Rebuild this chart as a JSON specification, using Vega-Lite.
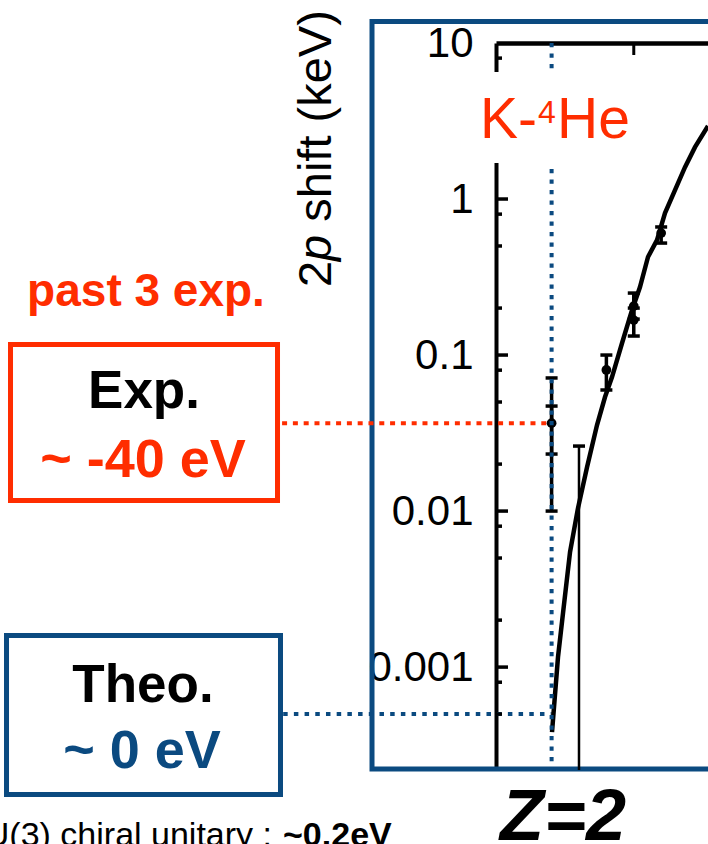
{
  "$schema": "https://vega.github.io/schema/vega-lite/v6.json",
  "width": 212,
  "height": 727,
  "autosize": {"type": "none"},
  "padding": {"left": 496, "top": 43, "right": 0, "bottom": 74},
  "background": "white",
  "config": {"view": {"stroke": null}, "font": "Liberation Sans", "axis": {"grid": false}},
  "layer": [
    {
      "data": {"values": [{"z": -4.557, "z2": 8.5, "v": 13.73, "v2": 0.000222}]},
      "mark": {"type": "rect", "filled": false, "stroke": "#0b4a80", "strokeWidth": 5},
      "encoding": {
        "x": {"field": "z", "type": "quantitative", "scale": {"domain": [-0.03, 7.71], "nice": false, "zero": false},
              "axis": {"orient": "top", "ticks": false, "labels": false, "domain": true, "domainColor": "black", "domainWidth": 4.5, "grid": false, "title": null}},
        "x2": {"field": "z2"},
        "y": {"field": "v", "type": "quantitative", "scale": {"type": "log", "domain": [0.000219, 10], "nice": false},
              "axis": {"orient": "left", "values": [0.001, 0.01, 0.1, 1, 10], "format": "~g", "ticks": false, "tickSize": 0, "domain": true, "domainColor": "black", "domainWidth": 4, "labelFont": "Liberation Sans", "labelFontSize": 42, "labelColor": "black", "labelPadding": 23, "labelFlush": false, "labelOverlap": false, "labelBound": false, "grid": false, "title": null}},
        "y2": {"field": "v2"}
      }
    },
    {
      "data": {"values": [{"box": "Exp.", "z": -17.755, "z2": -8.007, "v": 0.1168, "v2": 0.01168}]},
      "mark": {"type": "rect", "filled": false, "stroke": "#ff2d00", "strokeWidth": 5},
      "encoding": {
        "x": {"field": "z", "type": "quantitative"}, "x2": {"field": "z2"},
        "y": {"field": "v", "type": "quantitative"}, "y2": {"field": "v2"}
      }
    },
    {
      "data": {"values": [{"box": "Theo.", "z": -17.901, "z2": -7.898, "v": 0.001592, "v2": 0.0001524}]},
      "mark": {"type": "rect", "filled": false, "stroke": "#0b4a80", "strokeWidth": 5},
      "encoding": {
        "x": {"field": "z", "type": "quantitative"}, "x2": {"field": "z2"},
        "y": {"field": "v", "type": "quantitative"}, "y2": {"field": "v2"}
      }
    },
    {
      "data": {"values": [{"z": -7.84, "z2": 1.85, "v": 0.0366}]},
      "mark": {"type": "rule", "stroke": "#ff2d00", "strokeWidth": 4, "strokeDash": [5, 5.8]},
      "encoding": {
        "x": {"field": "z", "type": "quantitative"}, "x2": {"field": "z2"},
        "y": {"field": "v", "type": "quantitative"}
      }
    },
    {
      "data": {"values": [{"z": -7.80, "z2": 2.0, "v": 0.0005}]},
      "mark": {"type": "rule", "stroke": "#0b4a80", "strokeWidth": 4, "strokeDash": [4.5, 6.2]},
      "encoding": {
        "x": {"field": "z", "type": "quantitative"}, "x2": {"field": "z2"},
        "y": {"field": "v", "type": "quantitative"}
      }
    },
    {
      "data": {"values": [{"z": 3, "v": 0.000219, "v2": 0.0261}]},
      "layer": [
        {"mark": {"type": "rule", "color": "black", "strokeWidth": 2.5},
         "encoding": {"x": {"field": "z", "type": "quantitative"}, "y": {"field": "v", "type": "quantitative"}, "y2": {"field": "v2"}}},
        {"mark": {"type": "tick", "orient": "horizontal", "color": "black", "opacity": 1, "size": 12, "thickness": 3.5},
         "encoding": {"x": {"field": "z", "type": "quantitative"}, "y": {"field": "v2", "type": "quantitative"}}}
      ]
    },
    {
      "data": {"values": [
        {"z": 2.015, "v": 0.000383}, {"z": 2.234, "v": 0.00116}, {"z": 2.417, "v": 0.00222},
        {"z": 2.673, "v": 0.00546}, {"z": 2.964, "v": 0.01045}, {"z": 3.293, "v": 0.0191},
        {"z": 3.658, "v": 0.0356}, {"z": 3.95, "v": 0.0538}, {"z": 4.205, "v": 0.0723},
        {"z": 4.57, "v": 0.119}, {"z": 4.935, "v": 0.194}, {"z": 5.227, "v": 0.273},
        {"z": 5.519, "v": 0.425}, {"z": 5.848, "v": 0.546}, {"z": 6.14, "v": 0.813},
        {"z": 6.505, "v": 1.14}, {"z": 6.87, "v": 1.6}, {"z": 7.235, "v": 2.15}, {"z": 7.71, "v": 2.94}
      ]},
      "mark": {"type": "line", "color": "black", "strokeWidth": 4.5, "clip": true},
      "encoding": {
        "x": {"field": "z", "type": "quantitative"},
        "y": {"field": "v", "type": "quantitative"}
      }
    },
    {
      "data": {"values": [
        {"z": 2, "v": 0.01, "v2": 0.0713}, {"z": 2, "v": 0.0232, "v2": 0.0471},
        {"z": 4, "v": 0.0597, "v2": 0.1}, {"z": 5, "v": 0.17, "v2": 0.2496},
        {"z": 5, "v": 0.1324, "v2": 0.2}, {"z": 6, "v": 0.522, "v2": 0.662}
      ]},
      "layer": [
        {"mark": {"type": "rule", "color": "black", "strokeWidth": 3.5},
         "encoding": {"x": {"field": "z", "type": "quantitative"}, "y": {"field": "v", "type": "quantitative"}, "y2": {"field": "v2"}}},
        {"mark": {"type": "tick", "orient": "horizontal", "color": "black", "opacity": 1, "size": 12, "thickness": 3.5},
         "encoding": {"x": {"field": "z", "type": "quantitative"}, "y": {"field": "v", "type": "quantitative"}}},
        {"mark": {"type": "tick", "orient": "horizontal", "color": "black", "opacity": 1, "size": 12, "thickness": 3.5},
         "encoding": {"x": {"field": "z", "type": "quantitative"}, "y": {"field": "v2", "type": "quantitative"}}}
      ]
    },
    {
      "data": {"values": [
        {"z": 2, "v": 0.0366}, {"z": 4, "v": 0.0802}, {"z": 5, "v": 0.206},
        {"z": 5, "v": 0.1675}, {"z": 6, "v": 0.605}
      ]},
      "mark": {"type": "circle", "color": "black", "size": 95, "opacity": 1},
      "encoding": {
        "x": {"field": "z", "type": "quantitative"},
        "y": {"field": "v", "type": "quantitative"}
      }
    },
    {
      "data": {"values": [{"z": 2, "v": 10, "v2": 0.000219}]},
      "mark": {"type": "rule", "stroke": "#0b4a80", "strokeWidth": 4, "strokeDash": [4.3, 6.2]},
      "encoding": {
        "x": {"field": "z", "type": "quantitative"},
        "y": {"field": "v", "type": "quantitative"}, "y2": {"field": "v2"}
      }
    },
    {
      "data": {"values": [
        {"v": 0.001, "kind": "major"}, {"v": 0.01, "kind": "major"}, {"v": 0.1, "kind": "major"}, {"v": 1, "kind": "major"},
        {"v": 0.0005, "kind": "minor"}, {"v": 0.0008, "kind": "minor"}, {"v": 0.002, "kind": "minor"},
        {"v": 0.005, "kind": "minor"}, {"v": 0.008, "kind": "minor"}, {"v": 0.02, "kind": "minor"},
        {"v": 0.05, "kind": "minor"}, {"v": 0.08, "kind": "minor"}, {"v": 0.2, "kind": "minor"},
        {"v": 0.5, "kind": "minor"}, {"v": 0.8, "kind": "minor"}, {"v": 2, "kind": "minor"},
        {"v": 5, "kind": "minor"}, {"v": 8, "kind": "minor"}
      ]},
      "layer": [
        {"transform": [{"filter": "datum.kind === 'major'"}],
         "mark": {"type": "rule", "color": "black", "strokeWidth": 3.5},
         "encoding": {"x": {"datum": -0.03, "type": "quantitative"}, "x2": {"datum": 0.408},
                      "y": {"field": "v", "type": "quantitative"}}},
        {"transform": [{"filter": "datum.kind === 'minor'"}],
         "mark": {"type": "rule", "color": "black", "strokeWidth": 3.5},
         "encoding": {"x": {"datum": -0.03, "type": "quantitative"}, "x2": {"datum": 0.19},
                      "y": {"field": "v", "type": "quantitative"}}}
      ]
    },
    {
      "data": {"values": [{"z": -0.468, "z2": 5.227, "v": 6.52, "v2": 1.7}]},
      "mark": {"type": "rect", "fill": "white", "stroke": null},
      "encoding": {
        "x": {"field": "z", "type": "quantitative"}, "x2": {"field": "z2"},
        "y": {"field": "v", "type": "quantitative"}, "y2": {"field": "v2"}
      }
    },
    {
      "data": {"values": [{"z": 5, "v": 10, "v2": 8.38}]},
      "mark": {"type": "rule", "color": "black", "strokeWidth": 3},
      "encoding": {
        "x": {"field": "z", "type": "quantitative"},
        "y": {"field": "v", "type": "quantitative"}, "y2": {"field": "v2"}
      }
    },
    {
      "data": {"values": [{"t": "K-", "z": -0.614, "v": 2.46}, {"t": "He", "z": 2.197, "v": 2.46}]},
      "mark": {"type": "text", "fontSize": 57, "color": "#ff2d00", "align": "left", "baseline": "alphabetic"},
      "encoding": {"x": {"field": "z", "type": "quantitative"}, "y": {"field": "v", "type": "quantitative"}, "text": {"field": "t"}}
    },
    {
      "data": {"values": [{"t": "4", "z": 1.503, "v": 3.07}]},
      "mark": {"type": "text", "fontSize": 32, "color": "#ff2d00", "align": "left", "baseline": "alphabetic"},
      "encoding": {"x": {"field": "z", "type": "quantitative"}, "y": {"field": "v", "type": "quantitative"}, "text": {"field": "t"}}
    },
    {
      "data": {"values": [{"t": "2", "z": -6.054, "v": 0.2729}, {"t": "shift (keV)", "z": -6.054, "v": 0.715}]},
      "mark": {"type": "text", "fontSize": 47, "color": "black", "align": "left", "baseline": "alphabetic", "angle": 270},
      "encoding": {"x": {"field": "z", "type": "quantitative"}, "y": {"field": "v", "type": "quantitative"}, "text": {"field": "t"}}
    },
    {
      "data": {"values": [{"t": "p", "z": -6.054, "v": 0.4012}]},
      "mark": {"type": "text", "fontSize": 47, "fontStyle": "italic", "color": "black", "align": "left", "baseline": "alphabetic", "angle": 270},
      "encoding": {"x": {"field": "z", "type": "quantitative"}, "y": {"field": "v", "type": "quantitative"}, "text": {"field": "t"}}
    },
    {
      "data": {"values": [{"t": "past 3 exp.", "z": -12.808, "v": 0.206}]},
      "mark": {"type": "text", "fontSize": 46, "fontWeight": "bold", "color": "#ff2d00", "align": "center", "baseline": "alphabetic"},
      "encoding": {"x": {"field": "z", "type": "quantitative"}, "y": {"field": "v", "type": "quantitative"}, "text": {"field": "t"}}
    },
    {
      "data": {"values": [{"t": "Exp.", "z": -12.881, "v": 0.0457}, {"t": "Theo.", "z": -12.918, "v": 0.000597}]},
      "mark": {"type": "text", "fontSize": 53, "fontWeight": "bold", "color": "black", "align": "center", "baseline": "alphabetic"},
      "encoding": {"x": {"field": "z", "type": "quantitative"}, "y": {"field": "v", "type": "quantitative"}, "text": {"field": "t"}}
    },
    {
      "data": {"values": [{"t": "~ -40 eV", "z": -12.918, "v": 0.01652}]},
      "mark": {"type": "text", "fontSize": 54, "fontWeight": "bold", "color": "#ff2d00", "align": "center", "baseline": "alphabetic"},
      "encoding": {"x": {"field": "z", "type": "quantitative"}, "y": {"field": "v", "type": "quantitative"}, "text": {"field": "t"}}
    },
    {
      "data": {"values": [{"t": "~ 0 eV", "z": -12.954, "v": 0.000225}]},
      "mark": {"type": "text", "fontSize": 54, "fontWeight": "bold", "color": "#0b4a80", "align": "center", "baseline": "alphabetic"},
      "encoding": {"x": {"field": "z", "type": "quantitative"}, "y": {"field": "v", "type": "quantitative"}, "text": {"field": "t"}}
    },
    {
      "data": {"values": [{"t": "Z=2", "z": 2.416, "v": 0.0000778}]},
      "mark": {"type": "text", "fontSize": 72, "fontWeight": "bold", "fontStyle": "italic", "color": "black", "align": "center", "baseline": "alphabetic"},
      "encoding": {"x": {"field": "z", "type": "quantitative"}, "y": {"field": "v", "type": "quantitative"}, "text": {"field": "t"}}
    },
    {
      "data": {"values": [{"t": "SU(3) chiral unitary :", "z": -8.208, "v": 0.0000713}]},
      "mark": {"type": "text", "fontSize": 34, "color": "black", "align": "right", "baseline": "alphabetic"},
      "encoding": {"x": {"field": "z", "type": "quantitative"}, "y": {"field": "v", "type": "quantitative"}, "text": {"field": "t"}}
    },
    {
      "data": {"values": [{"t": "~0.2eV", "z": -7.806, "v": 0.0000713}]},
      "mark": {"type": "text", "fontSize": 34, "fontWeight": "bold", "color": "black", "align": "left", "baseline": "alphabetic"},
      "encoding": {"x": {"field": "z", "type": "quantitative"}, "y": {"field": "v", "type": "quantitative"}, "text": {"field": "t"}}
    }
  ]
}
